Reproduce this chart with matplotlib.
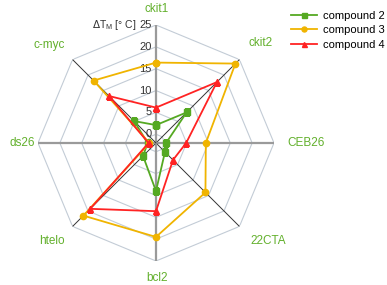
import numpy as np
import matplotlib
matplotlib.use('Agg')
import matplotlib.pyplot as plt

plt.rcParams['font.family'] = ['Liberation Sans', 'DejaVu Sans']

# data
cats = ['ckit1', 'ckit2', 'CEB26', '22CTA', 'bcl2', 'htelo', 'ds26', 'c-myc']
compound2 = [2.1, 7.9, 0.3, 0.9, 9.0, 2.2, -0.1, 5.1]
compound3 = [16.4, 23.7, 9.4, 14.0, 19.5, 21.5, -0.5, 18.2]
compound4 = [6.1, 17.7, 4.9, 3.5, 13.6, 19.3, -0.3, 13.2]
rticks = [0, 5, 10, 15, 20, 25]
rmin, rmax = -2, 25

c_green = '#55a922'
c_yellow = '#f0b400'
c_red = '#ff2323'
c_lab = '#62b02c'

n = len(cats)
theta = np.arange(n) * 2 * np.pi / n
th_closed = np.append(theta, theta[0])

fig = plt.figure(figsize=(3.87, 2.85), dpi=100)
W, H = 387, 285
cx, cy, R = 156, 143, 118
ax = fig.add_axes([(cx - R) / W, (H - cy - R) / H, 2 * R / W, 2 * R / H],
                  projection='polar')
ax.set_theta_zero_location('N')
ax.set_theta_direction(-1)
ax.set_ylim(rmin, rmax)
ax.grid(False)
ax.set_xticks([])
ax.set_yticks([])
ax.spines['polar'].set_visible(False)
ax.patch.set_visible(False)

# octagon grid
for r in rticks:
    ax.plot(th_closed, [r] * (n + 1), color='#c3ccd6', lw=0.8, zorder=1)

# spokes
for i, t in enumerate(theta):
    if i % 2 == 0:
        ax.plot([t, t], [rmin, rmax], color='#9a9a9a', lw=1.6, zorder=2)
    else:
        ax.plot([t, t], [rmin, rmax], color='#333333', lw=0.7, zorder=2)

# tick labels along top spoke
for r in rticks:
    ax.annotate(str(r), (0, r), xytext=(-3, 0), textcoords='offset points',
                ha='right', va='center', fontsize=8, color='#333333')
ax.annotate(r'$\Delta$T$_\mathregular{M}$ [° C]', (0, 25), xytext=(-14, 0),
            textcoords='offset points', ha='right', va='center',
            fontsize=7.5, color='#333333')

series = [(compound2, c_green, 's', 'compound 2'),
          (compound3, c_yellow, 'o', 'compound 3'),
          (compound4, c_red, '^', 'compound 4')]
for vals, col, mk, lab in series:
    v = np.append(vals, vals[0])
    ax.plot(th_closed, v, color=col, lw=1.3, marker=mk, ms=4.5,
            label=lab, zorder=4)

# category labels (pixel positions from the picture)
lab_pos = [(157, 9), (261, 43), (306, 143), (268, 241),
           (157, 278), (52, 241), (22, 143), (49, 45)]
for name, (px, py) in zip(cats, lab_pos):
    fig.text(px / W, 1 - py / H, name, ha='center', va='center',
             fontsize=8.5, color=c_lab)

fig.legend(loc='upper left', bbox_to_anchor=(283 / W, 1 - 3 / H),
           frameon=False, fontsize=8, handlelength=2.4, handletextpad=0.5,
           labelspacing=0.4, borderpad=0.2, markerscale=0.8)

fig.savefig('out.png', dpi=100)
